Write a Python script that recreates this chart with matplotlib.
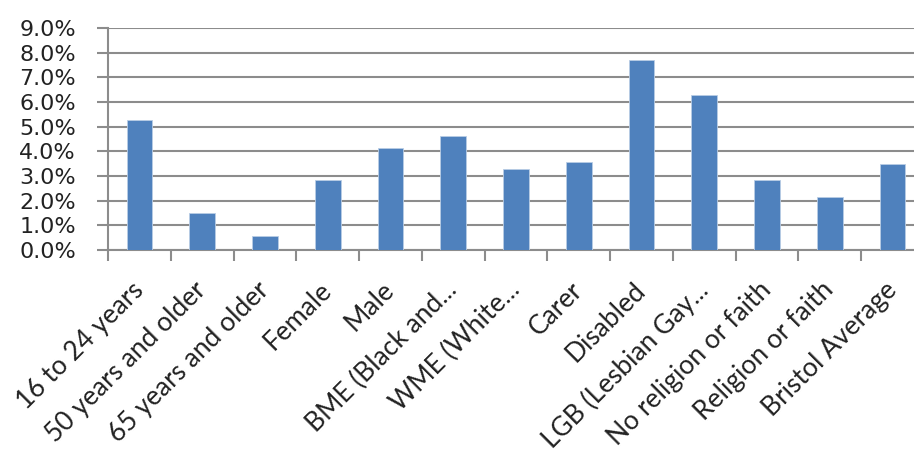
import numpy as np
import matplotlib
matplotlib.use("Agg")
import matplotlib.pyplot as plt
from matplotlib.ticker import PercentFormatter

# categories and values
categories = ["16 to 24 years", "50 years and older", "65 years and older",
              "Female", "Male", "BME (Black and...", "WME (White...",
              "Carer", "Disabled", "LGB (Lesbian Gay...",
              "No religion or faith", "Religion or faith", "Bristol Average"]
values = [5.27, 1.51, 0.58, 2.83, 4.15, 4.62, 3.30, 3.58, 7.71, 6.30,
          2.83, 2.16, 3.49]

plt.rcParams['font.family'] = ['DejaVu Sans']
grey = '#8c8c8c'

fig = plt.figure(figsize=(9.14, 4.55), dpi=100)
# the plot area runs past the right edge of the picture, as in the reference
ax = fig.add_axes([108 / 914, 205 / 455, 816 / 914, 222 / 455])

x = np.arange(len(categories))
ax.bar(x, values, width=0.41, color='#4f81bd', edgecolor='#b9cde5',
       linewidth=0.6, zorder=3)

ax.set_xlim(-0.5, len(categories) - 0.5)
ax.set_ylim(0, 9)
ax.set_yticks(np.arange(0, 10, 1))
ax.yaxis.set_major_formatter(PercentFormatter(decimals=1))
ax.grid(axis='y', color=grey, linewidth=1.5, zorder=0)

# ticks on category boundaries, labels at centers
ax.set_xticks(np.arange(len(categories) + 1) - 0.5)
ax.set_xticklabels([])
ax.set_xticks(x, minor=True)
ax.set_xticklabels(categories, minor=True, rotation=45, ha='right',
                   rotation_mode='anchor', fontsize=19, family=['Lato'],
                   color='#222222')
ax.tick_params(axis='x', which='minor', length=0, pad=26)
ax.tick_params(axis='x', which='major', length=8, width=1.5, color=grey,
               direction='out')
ax.tick_params(axis='y', length=8, width=1.5, color=grey, direction='out',
               labelsize=16, pad=15, labelcolor='#222222')
for lab in ax.get_xticklabels(minor=True):
    lab.set_va('center')

for s in ['top', 'right']:
    ax.spines[s].set_visible(False)
for s in ['left', 'bottom']:
    ax.spines[s].set_color(grey)
    ax.spines[s].set_linewidth(1.5)

fig.savefig('out.png', dpi=100)
